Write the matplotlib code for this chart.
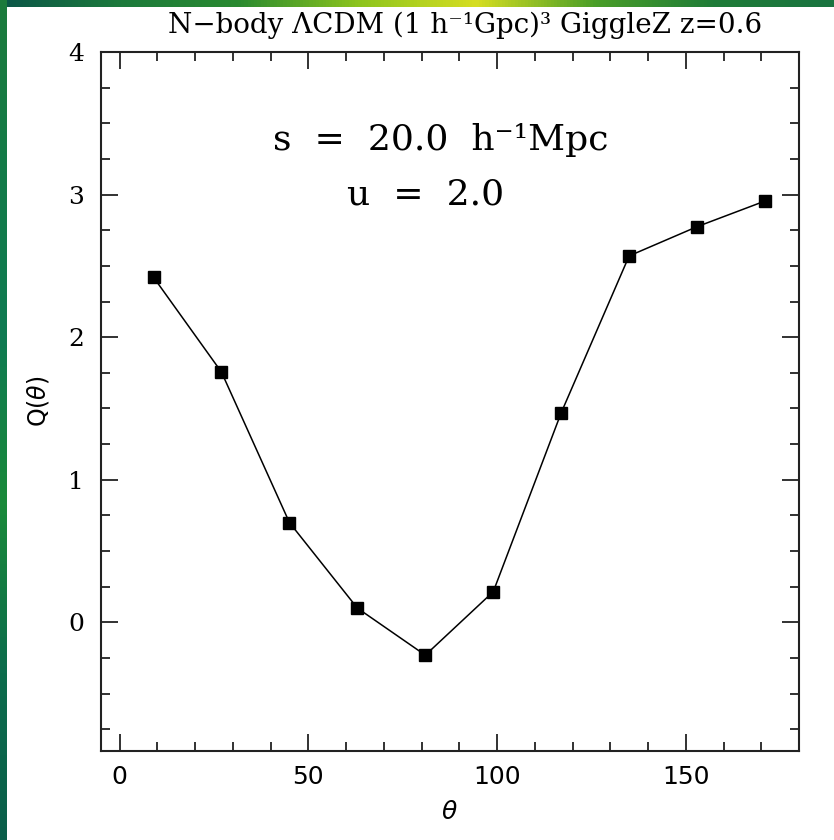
import numpy as np
import matplotlib
matplotlib.use('Agg')
import matplotlib.pyplot as plt
from matplotlib.colors import LinearSegmentedColormap
from matplotlib.ticker import MultipleLocator

# three-point function Q(theta), s = 20 h^-1 Mpc, u = 2
theta = [9, 27, 45, 63, 81, 99, 117, 135, 153, 171]
Q = [2.42, 1.755, 0.70, 0.10, -0.23, 0.215, 1.47, 2.57, 2.775, 2.955]

titleText = 'N\u2212body \u039bCDM (1 h\u207b\u00b9Gpc)\u00b3 GiggleZ z=0.6'
sText = 's  =  20.0  h\u207b\u00b9Mpc'
uText = 'u  =  2.0'

W, H = 834, 840
fig = plt.figure(figsize=(W/100, H/100), dpi=100)
fig.patch.set_facecolor('white')

# thin coloured border strips along the top and left edges
topCmap = LinearSegmentedColormap.from_list('top', ['#0b5548', '#1c7a3c', '#2a8a30', '#8cc41e', '#d6de22', '#4a9e28', '#1f7c38', '#1a7440'])
leftCmap = LinearSegmentedColormap.from_list('left', ['#1c7a3c', '#137a48', '#0f7a52', '#1a8a3a', '#0c6c4c', '#0a5e4a'])
bw, bh = 7/W, 7/H
axTop = fig.add_axes([0, 1-bh, 1, bh])
axTop.imshow(np.linspace(0, 1, 256)[None, :], cmap=topCmap, aspect='auto')
axTop.axis('off')
axLeft = fig.add_axes([0, 0, bw, 1])
axLeft.imshow(np.linspace(0, 1, 256)[:, None], cmap=leftCmap, aspect='auto')
axLeft.axis('off')

ax = fig.add_axes([100.7/W, 1-750.7/H, (799-100.7)/W, (750.7-52)/H])
ax.plot(theta, Q, color='black', linewidth=1.1, marker='s', markersize=8.5,
        markerfacecolor='black', markeredgecolor='black')

ax.set_xlim(-5, 180)
ax.set_ylim(-0.9, 4)
ax.xaxis.set_major_locator(MultipleLocator(50))
ax.xaxis.set_minor_locator(MultipleLocator(10))
ax.yaxis.set_major_locator(MultipleLocator(1))
ax.yaxis.set_minor_locator(MultipleLocator(0.25))
ax.tick_params(which='both', direction='in', top=True, right=True, width=1.3, color='#222222')
ax.tick_params(which='major', length=12.5)
ax.tick_params(which='minor', length=6.5)
ax.tick_params(axis='x', which='major', pad=10, labelsize=18)
ax.tick_params(axis='y', which='major', pad=12, labelsize=18)
for lab in ax.get_xticklabels():
    lab.set_family('DejaVu Sans')
for lab in ax.get_yticklabels():
    lab.set_family('DejaVu Serif')
for sp in ax.spines.values():
    sp.set_linewidth(1.5)
    sp.set_color('#222222')

ax.set_xlabel(r'$\theta$', fontsize=18, labelpad=8)
ax.set_ylabel(r'Q($\theta$)', fontsize=17, labelpad=12)
ax.set_title(titleText, family='DejaVu Serif', fontsize=20, pad=14, x=0.522)

ax.text(85, 3.38, sText, family='DejaVu Serif', fontsize=26, ha='center', va='center')
ax.text(81, 3.0, uText, family='DejaVu Serif', fontsize=26, ha='center', va='center')

fig.savefig('out.png', dpi=100)
